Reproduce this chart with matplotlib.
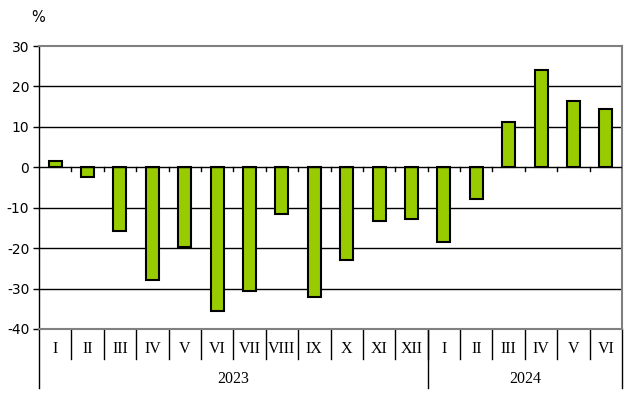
import numpy as np
import matplotlib.pyplot as plt
from matplotlib.lines import Line2D

plt.rcParams["axes.unicode_minus"] = False

# Data
months = ["I", "II", "III", "IV", "V", "VI", "VII", "VIII", "IX", "X", "XI", "XII",
          "I", "II", "III", "IV", "V", "VI"]
values = [1.5, -2.5, -15.8, -28.0, -19.8, -35.6, -30.7, -11.6, -32.2, -23.0, -13.4, -12.9,
          -18.6, -7.9, 11.1, 24.0, 16.3, 14.4]
years = ["2023", "2024"]
year_counts = [12, 6]

fig = plt.figure(figsize=(6.38, 3.99), dpi=100)
ax = fig.add_axes([39/638, 1 - 329/399, (622 - 39)/638, (329 - 46)/399])

n = len(months)
x = np.arange(n)
ax.bar(x, values, width=0.4, color="#99CC00", edgecolor="black", linewidth=1.5, zorder=3)

ax.set_xlim(-0.5, n - 0.5)
ax.set_ylim(-40, 30)
ax.set_yticks(np.arange(-40, 31, 10))
ax.tick_params(axis="y", length=4, width=1, labelsize=10, pad=3)
for lbl in ax.get_yticklabels():
    lbl.set_fontfamily("DejaVu Sans")

# gridlines
for y in [20, 10, -10, -20, -30]:
    ax.axhline(y, color="black", linewidth=1, zorder=1)
ax.axhline(0, color="black", linewidth=1, zorder=4)

# small ticks on zero line
for b in np.arange(0.5, n - 0.5, 1):
    ax.plot([b, b], [0, -1.0], color="black", linewidth=1, zorder=4)

ax.set_xticks([])
for s in ["top", "right", "bottom"]:
    ax.spines[s].set_color("#808080")
    ax.spines[s].set_linewidth(1.5)
ax.spines["left"].set_color("black")
ax.spines["left"].set_linewidth(1)

# month labels & separators below axis
trans = ax.get_xaxis_transform()
for i, m in enumerate(months):
    ax.text(i, -0.07, m, transform=trans, ha="center", va="center",
            fontsize=11.5, fontfamily="Liberation Serif")
for b in np.arange(0.5, n - 0.5, 1):
    ax.add_line(Line2D([b, b], [0, -0.105], transform=trans, color="black",
                       linewidth=1, clip_on=False))

# year labels & separators
edges = [-0.5]
for cnt in year_counts:
    edges.append(edges[-1] + cnt)
for e in edges:
    ax.add_line(Line2D([e, e], [0, -0.21], transform=trans, color="black",
                       linewidth=1, clip_on=False))
for yr, a, b in zip(years, edges[:-1], edges[1:]):
    ax.text((a + b) / 2, -0.177, yr, transform=trans, ha="center", va="center",
            fontsize=11.5, fontfamily="Liberation Serif")

fig.text(38/638, 1 - 18/399, "%", ha="center", va="center", fontsize=10.5,
         fontfamily="DejaVu Sans")

fig.savefig("out.png", dpi=100)
